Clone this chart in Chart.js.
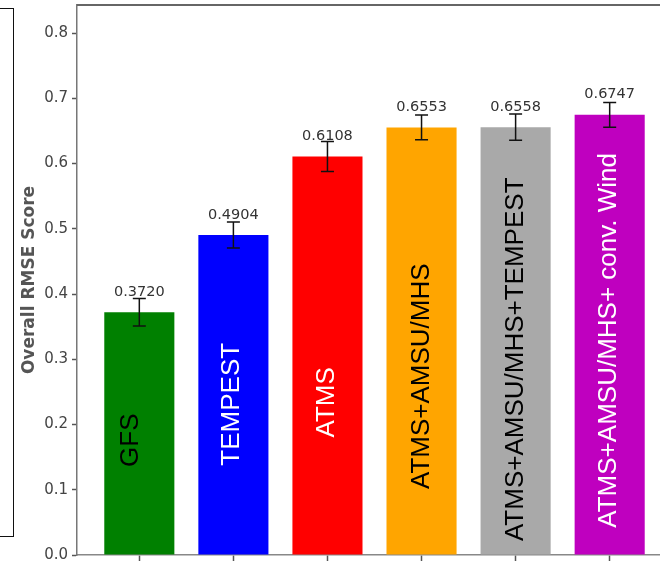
<!DOCTYPE html>
<html>
<head>
<meta charset="utf-8">
<script src="https://cdn.jsdelivr.net/npm/chart.js@4"></script>
<style>
  html, body { margin: 0; padding: 0; background: #fff; overflow: hidden; }
  #wrap { position: relative; width: 660px; height: 570px; overflow: hidden; }
  #side-panel { position: absolute; left: -3px; top: 8px; width: 15px; height: 527px; border: 1.5px solid #111; }
  #chart { position: absolute; left: 0; top: 0; display: block; }
</style>
</head>
<body>
<div id="wrap">
  <div id="side-panel"></div>
  <canvas id="chart" width="672" height="570"></canvas>
</div>
<script>
let experiments = ['GFS', 'TEMPEST', 'ATMS', 'ATMS+AMSU/MHS', 'ATMS+AMSU/MHS+TEMPEST', 'ATMS+AMSU/MHS+ conv. Wind'];
let scores = [0.3720, 0.4904, 0.6108, 0.6553, 0.6558, 0.6747];
let errors = [0.021, 0.020, 0.023, 0.019, 0.020, 0.019];
let yTicks = [0.0, 0.1, 0.2, 0.3, 0.4, 0.5, 0.6, 0.7, 0.8];

let barColors = ['#008000', '#0000ff', '#ff0000', '#ffa500', '#a9a9a9', '#bf00bf'];
let nameColors = ['#000', '#fff', '#fff', '#000', '#000', '#fff'];
// where each rotated name sits inside its bar (y in score units, x nudge in px)
let nameAnchor = [0.176, 0.231, 0.234, 0.274, 0.300, 0.329];
let nameNudge = [-8, -2, -1, 0, 0, -1];

let tickFont = 'DejaVu Sans';
let nameFont = '"Liberation Sans", Arial, sans-serif';

// labels, error bars and the top spine
const barDecor = {
    id: 'barDecor',
    afterDatasetsDraw(chart) {
        let ctx = chart.ctx;
        let xs = chart.scales.x;
        let ys = chart.scales.y;
        let area = chart.chartArea;

        ctx.save();

        // top spine
        ctx.strokeStyle = '#666';
        ctx.lineWidth = 2;
        ctx.beginPath();
        ctx.moveTo(area.left, area.top);
        ctx.lineTo(area.right, area.top);
        ctx.stroke();

        for (let i = 0; i < scores.length; i++) {
            let x = xs.getPixelForValue(i);

            // experiment name, rotated inside the bar
            ctx.save();
            ctx.translate(x + nameNudge[i], ys.getPixelForValue(nameAnchor[i]));
            ctx.rotate(-Math.PI / 2);
            ctx.font = '26px ' + nameFont;
            ctx.fillStyle = nameColors[i];
            ctx.textAlign = 'center';
            ctx.textBaseline = 'middle';
            ctx.fillText(experiments[i], 0, 0);
            ctx.restore();

            // score above the bar
            ctx.font = '14.5px ' + tickFont;
            ctx.fillStyle = '#333';
            ctx.textAlign = 'center';
            ctx.textBaseline = 'alphabetic';
            ctx.fillText(scores[i].toFixed(4), x, ys.getPixelForValue(scores[i]) - 16.5);

            // error bar
            let top = ys.getPixelForValue(scores[i] + errors[i]);
            let bottom = ys.getPixelForValue(scores[i] - errors[i]);
            ctx.strokeStyle = '#111';
            ctx.lineWidth = 1.5;
            ctx.beginPath();
            ctx.moveTo(x, top);
            ctx.lineTo(x, bottom);
            ctx.moveTo(x - 6.5, top);
            ctx.lineTo(x + 6.5, top);
            ctx.moveTo(x - 6.5, bottom);
            ctx.lineTo(x + 6.5, bottom);
            ctx.stroke();
        }
        ctx.restore();
    }
};

let chart = new Chart(document.getElementById('chart').getContext('2d'), {
    type: 'bar',
    data: {
        datasets: [{
            data: scores.map((v, i) => ({ x: i, y: v })),
            backgroundColor: barColors,
            borderWidth: 0,
            barPercentage: 0.745,
            categoryPercentage: 1
        }]
    },
    options: {
        responsive: false,
        animation: false,
        layout: { padding: { top: 5, left: 0, right: 0, bottom: 0 } },
        plugins: {
            legend: { display: false },
            tooltip: { enabled: false }
        },
        scales: {
            x: {
                type: 'linear',
                offset: false,
                min: -0.6625,
                max: 5.6625,
                afterBuildTicks: s => { s.ticks = experiments.map((_, i) => ({ value: i })); },
                afterFit: s => { s.height = 15; s.paddingLeft = 0; s.paddingRight = 0; },
                ticks: { display: false },
                grid: { offset: false, drawOnChartArea: false, drawTicks: true, tickLength: 6, tickColor: '#555', tickWidth: 1.5 },
                border: { color: '#888', width: 1.5 }
            },
            y: {
                min: 0,
                max: 0.843,
                afterBuildTicks: s => { s.ticks = yTicks.map(v => ({ value: v })); },
                afterFit: s => { s.width = 77; s.paddingTop = 0; s.paddingBottom = 0; },
                ticks: {
                    padding: 4,
                    color: '#444',
                    font: { family: tickFont, size: 15 },
                    callback: v => v.toFixed(1)
                },
                grid: { drawOnChartArea: false, drawTicks: true, tickLength: 5, tickColor: '#555', tickWidth: 1.5 },
                border: { color: '#777', width: 1.5 },
                title: {
                    display: true,
                    text: 'Overall RMSE Score',
                    color: '#555',
                    font: { family: tickFont, size: 17, weight: 'bold' },
                    padding: { top: 19, bottom: 0 }
                }
            }
        }
    },
    plugins: [barDecor]
});
</script>
</body>
</html>
